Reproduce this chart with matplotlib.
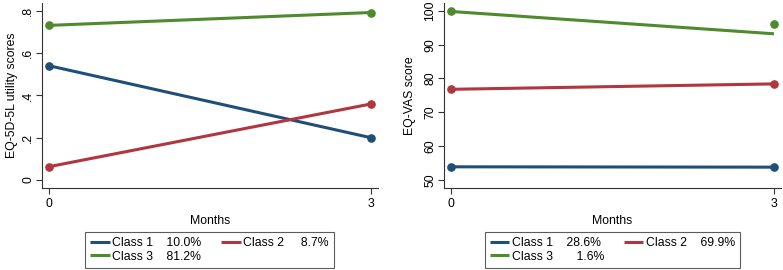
import matplotlib
matplotlib.use('Agg')
import matplotlib.pyplot as plt

plt.rcParams['font.family'] = ['Liberation Sans', 'DejaVu Sans']

# ── data ─────────────────────────────────────────────
months = [0, 3]
classes = ['Class 1', 'Class 2', 'Class 3']

# EQ-5D-5L utility (fitted == observed)
eq5d_fit = [[0.541, 0.200], [0.063, 0.360], [0.732, 0.793]]
eq5d_obs = [[0.541, 0.200], [0.063, 0.360], [0.732, 0.793]]
eq5d_pct = ['10.0%', '8.7%', '81.2%']

# EQ-VAS (class 3 observed point at month 3 differs from fitted line)
vas_fit = [[53.9, 53.8], [76.8, 78.4], [99.8, 93.2]]
vas_obs = [[53.9, 53.8], [76.8, 78.4], [99.8, 96.2]]
vas_pct = ['28.6%', '69.9%', '1.6%']

eq5d_labels = ['Class 1    10.0%', 'Class 2     8.7%', 'Class 3    81.2%']
vas_labels = ['Class 1    28.6%', 'Class 2    69.9%', 'Class 3       1.6%']

colors = ['#1f4e79', '#b0363f', '#4f8a2d']

FS = 8.8
W, H = 783, 270


def draw_panel(ax, fit, obs, yticks, yticklabels, ylim, ylabel, ylab_x):
    handles = []
    for i in range(3):
        ln, = ax.plot(months, fit[i], color=colors[i], lw=2.2,
                      solid_capstyle='butt', zorder=3)
        ax.plot(months, obs[i], 'o', color=colors[i], ms=5.2, zorder=4,
                clip_on=False)
        handles.append(ln)
    ax.set_xlim(-0.065, 3.065)
    ax.set_ylim(*ylim)
    ax.set_xticks(months)
    ax.set_xticklabels(['0', '3'], fontsize=FS)
    ax.set_yticks(yticks)
    ax.set_yticklabels(yticklabels, fontsize=FS, rotation=90,
                       va='center', ha='center')
    ax.set_xlabel('Months', fontsize=FS, labelpad=3)
    ax.set_ylabel(ylabel, fontsize=FS)
    ax.yaxis.set_label_coords(ylab_x, 0.5)
    for s in ['top', 'right']:
        ax.spines[s].set_visible(False)
    for s in ['left', 'bottom']:
        ax.spines[s].set_linewidth(0.8)
        ax.spines[s].set_color('#333333')
    ax.tick_params(axis='both', length=4.5, width=0.8, color='#333333')
    ax.tick_params(axis='y', pad=5.4)
    ax.tick_params(axis='x', pad=3)
    return handles


fig = plt.figure(figsize=(W / 100, H / 100), dpi=100)
fig.patch.set_facecolor('white')

# left panel
ax1 = fig.add_axes([42 / W, (H - 188) / H, (378 - 42) / W, (188 - 3) / H])
h1 = draw_panel(ax1, eq5d_fit, eq5d_obs,
                [0, 0.2, 0.4, 0.6, 0.8], ['0', '.2', '.4', '.6', '.8'],
                (-0.038, 0.838), 'EQ-5D-5L utility scores',
                (18 - 42) / 336)

# right panel
ax2 = fig.add_axes([444 / W, (H - 188) / H, (781 - 444) / W, (188 - 3) / H])
h2 = draw_panel(ax2, vas_fit, vas_obs,
                [50, 60, 70, 80, 90, 100],
                ['50', '60', '70', '80', '90', '100'],
                (47.64, 102.3), 'EQ-VAS score',
                (416 - 444) / 337)

order = [0, 2, 1]  # legend fills column-wise; show Class 1, Class 2 on row 1
for handles, labels, cx in [(h1, eq5d_labels, 209.5),
                            (h2, vas_labels, 612.5)]:
    leg = fig.legend([handles[i] for i in order], [labels[i] for i in order],
                     loc='upper center', ncol=2,
                     bbox_to_anchor=(cx / W, (H - 232) / H),
                     bbox_transform=fig.transFigure,
                     fontsize=FS, fancybox=False, frameon=True,
                     handlelength=1.6, handletextpad=0.2,
                     columnspacing=1.6, labelspacing=0.15,
                     borderpad=0.4, borderaxespad=0)
    leg.get_frame().set_edgecolor('#333333')
    leg.get_frame().set_linewidth(0.8)

fig.savefig('out.png', dpi=100)
